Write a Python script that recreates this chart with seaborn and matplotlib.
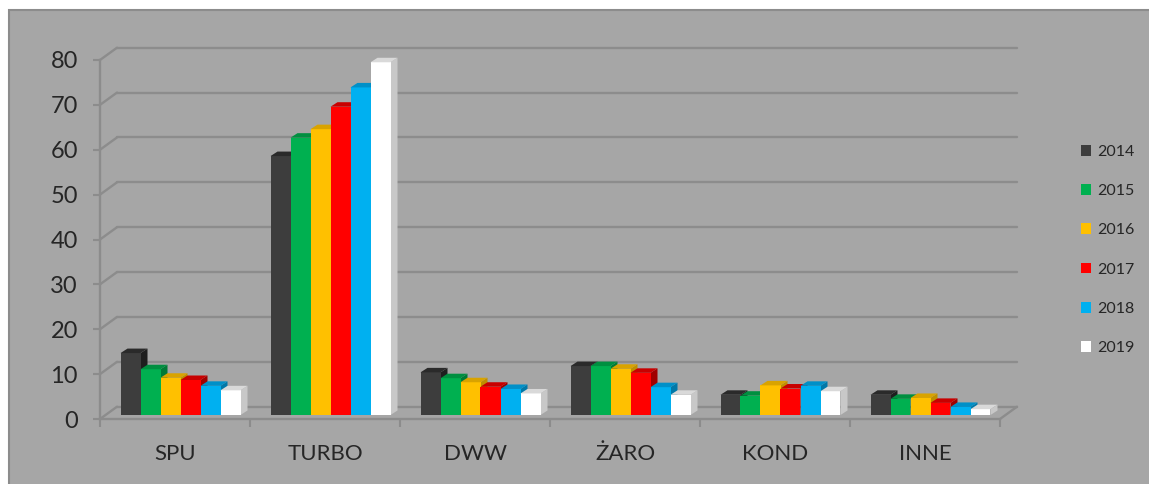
import numpy as np
import pandas as pd
import matplotlib
matplotlib.use("Agg")
import matplotlib.pyplot as plt
import seaborn as sns
from matplotlib.patches import Polygon, Rectangle
from matplotlib.transforms import ScaledTranslation

# ---------------- data ----------------
categories = ["SPU", "TURBO", "DWW", "ŻARO", "KOND", "INNE"]
years = ["2014", "2015", "2016", "2017", "2018", "2019"]
v2014 = [13.8, 57.7, 9.5, 10.9, 4.5, 4.5]
v2015 = [10.2, 61.8, 8.2, 10.9, 4.3, 3.6]
v2016 = [8.3, 63.7, 7.3, 10.3, 6.6, 3.8]
v2017 = [7.8, 68.7, 6.3, 9.4, 5.9, 2.7]
v2018 = [6.5, 73.0, 5.8, 6.2, 6.5, 1.8]
v2019 = [5.5, 78.6, 4.8, 4.5, 5.3, 1.3]
yticks = [0, 10, 20, 30, 40, 50, 60, 70, 80]

series = [v2014, v2015, v2016, v2017, v2018, v2019]
df = pd.DataFrame({
    "cat": [c for s in series for c in categories],
    "val": [v for s in series for v in s],
    "year": [y for y, s in zip(years, series) for _ in s],
})

front_colors = ["#3d3d3d", "#00b050", "#ffc000", "#ff0000", "#00b0f0", "#ffffff"]
top_colors = ["#2a2a2a", "#008f40", "#d9a300", "#c80000", "#0090c8", "#d9d9d9"]
side_colors = ["#1e1e1e", "#007a36", "#bf8f00", "#a00000", "#0078a8", "#c8c8c8"]

# ---------------- figure ----------------
sns.set_style("white")
plt.rcParams["font.family"] = ["Lato", "DejaVu Sans"]

W, H = 1149, 484
DPI = 100
fig = plt.figure(figsize=(W / DPI, H / DPI), dpi=DPI, facecolor="white")
fig.patches.append(Rectangle((9 / W, -0.01), (W - 9) / W + 0.02, (H - 10) / H + 0.01,
                             transform=fig.transFigure, facecolor="#a6a6a6",
                             edgecolor="#8c8c8c", linewidth=1.5, zorder=-10))

ax_left, ax_right, ax_top, ax_bot = 100, 1000, 60, 419
ax = fig.add_axes([ax_left / W, (H - ax_bot) / H, (ax_right - ax_left) / W, (ax_bot - ax_top) / H])
ax.set_facecolor("none")

sns.barplot(data=df, x="cat", y="val", hue="year", palette=front_colors,
            width=0.8, gap=0, saturation=1, errorbar=None, linewidth=0,
            edgecolor="none", ax=ax)

ax.set_xlim(-0.5, 5.5)
ax.set_ylim(0, 80)

pxx = (ax_right - ax_left) / 6.0
pxy = (ax_bot - ax_top) / 80.0
gridc = "#8c8c8c"

# back wall gridlines
bdx, bdy = 17.0, 12.3
gtr = ax.transData + ScaledTranslation(bdx / DPI, bdy / DPI, fig.dpi_scale_trans)
for v in yticks:
    ax.plot([-0.5, 5.5], [v, v], transform=gtr, color=gridc, lw=1.7, zorder=1, clip_on=False)
    ax.plot([-0.5, -0.5 + bdx / pxx], [v, v + bdy / pxy], color=gridc, lw=1.7, zorder=1, clip_on=False)
# floor right edge
ax.plot([5.5, 5.5 + bdx / pxx], [0, bdy / pxy], color=gridc, lw=1.7, zorder=1, clip_on=False)

# 3D bars
fdx, fdy = 5.5, 4.0
btr = ax.transData + ScaledTranslation(fdx / DPI, fdy / DPI, fig.dpi_scale_trans)
ddx, ddy = 7.0 / pxx, 4.5 / pxy
allbars = []
for ci, cont in enumerate(ax.containers):
    for bar in cont:
        allbars.append((bar.get_x(), ci, bar))
allbars.sort(key=lambda t: t[0])
for k, (x0, ci, bar) in enumerate(allbars):
    z = 3 + k * 0.01
    w = bar.get_width()
    h = bar.get_height()
    bar.set_transform(btr)
    bar.set_clip_on(False)
    bar.set_zorder(z + 0.005)
    side = Polygon([(x0 + w, 0), (x0 + w, h), (x0 + w + ddx, h + ddy), (x0 + w + ddx, ddy)],
                   closed=True, facecolor=side_colors[ci], edgecolor="none",
                   transform=btr, zorder=z, clip_on=False)
    top = Polygon([(x0, h), (x0 + w, h), (x0 + w + ddx, h + ddy), (x0 + ddx, h + ddy)],
                  closed=True, facecolor=top_colors[ci], edgecolor="none",
                  transform=btr, zorder=z + 0.006, clip_on=False)
    ax.add_patch(side)
    ax.add_patch(top)

# axes styling
for s in ["top", "right"]:
    ax.spines[s].set_visible(False)
for s in ["left", "bottom"]:
    ax.spines[s].set_color(gridc)
    ax.spines[s].set_linewidth(1.7)
    ax.spines[s].set_zorder(2)

ax.set_yticks(yticks)
ax.set_yticklabels([str(v) for v in yticks])
ax.tick_params(axis="y", length=5, width=1.5, color=gridc, pad=11,
               labelsize=17, labelcolor="#262626", left=True)
ax.set_xticks(range(len(categories)))
ax.set_xticklabels(categories)
ax.set_xticks(np.arange(-0.5, 6.0, 1.0), minor=True)
ax.tick_params(axis="x", which="major", length=0, pad=18, labelsize=16, labelcolor="#262626")
ax.tick_params(axis="x", which="minor", length=6, width=1.5, color=gridc, bottom=True)
ax.set_xlabel("")
ax.set_ylabel("")

# legend
handles, labels = ax.get_legend_handles_labels()
if ax.get_legend() is not None:
    ax.get_legend().remove()
fig.legend(handles, labels, loc="center left", bbox_to_anchor=(1081 / W, 1 - 250 / H),
           frameon=False, fontsize=11.5, handlelength=0.64, handleheight=0.64,
           handletextpad=0.4, labelspacing=1.58, borderpad=0, borderaxespad=0,
           labelcolor="#262626")

fig.savefig("out.png", dpi=DPI, facecolor="white")
